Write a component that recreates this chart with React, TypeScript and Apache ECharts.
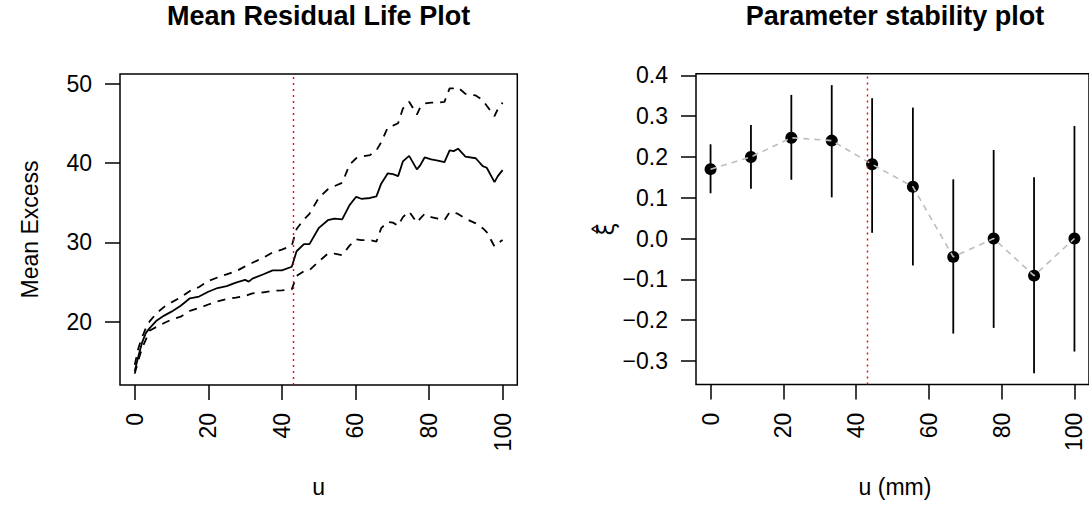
import React, { useEffect, useRef } from "react";
import * as echarts from "echarts";

// ---- Mean residual life data (left panel) ----
const mrlU = [0, 1, 2, 3, 4, 6, 8, 10, 12.5, 15, 17.5, 20, 22.5, 25, 27.5, 30, 31, 32, 35, 37.5, 40, 42.7, 44, 46, 47.5, 50, 52.5, 54.3, 56.4, 58.4, 60.2, 61.6, 64, 65.7, 67, 68.8, 70.2, 71.6, 72.9, 74.6, 76.7, 77.6, 78.8, 80.6, 82.4, 84.2, 85.6, 86.7, 87.9, 89.9, 92.7, 94.6, 95.7, 97.8, 98.7, 100];
const mrlMean = [13.8, 15.7, 17.4, 18.6, 19.2, 20.2, 20.8, 21.3, 22.05, 22.98, 23.2, 23.8, 24.27, 24.5, 24.95, 25.3, 25.07, 25.45, 26.0, 26.5, 26.5, 26.95, 28.9, 29.8, 29.8, 31.8, 32.8, 33.0, 32.9, 34.7, 35.75, 35.5, 35.6, 35.8, 37.4, 38.7, 38.6, 38.35, 40.2, 40.9, 39.2, 39.7, 40.7, 40.45, 40.3, 40.1, 41.6, 41.5, 41.8, 40.8, 40.6, 39.6, 39.4, 37.6, 38.35, 39.1];
const mrlUpper = [14.6, 16.7, 18.1, 19.2, 20.04, 21.13, 21.9, 22.47, 23.1, 23.9, 24.4, 25.15, 25.6, 26.0, 26.37, 27.0, 27.25, 27.45, 28.1, 28.75, 29.1, 29.6, 31.7, 32.9, 33.6, 35.6, 36.7, 37.1, 37.5, 39.8, 40.6, 40.8, 41.0, 41.6, 42.6, 44.5, 44.7, 45.0, 46.85, 47.7, 46.1, 47.0, 47.5, 47.6, 47.6, 47.7, 49.4, 49.4, 49.5, 48.7, 48.5, 47.9, 47.2, 45.9, 46.8, 47.6];
const mrlLower = [13.5, 15.2, 16.7, 17.74, 18.9, 19.4, 19.87, 20.3, 20.67, 21.4, 21.76, 22.2, 22.6, 22.9, 23.05, 23.27, 23.43, 23.6, 23.73, 23.9, 23.98, 24.1, 25.8, 26.4, 26.5, 27.6, 28.6, 28.6, 28.4, 29.6, 30.4, 30.3, 30.3, 30.1, 31.8, 32.6, 32.5, 32.1, 33.2, 33.9, 32.5, 33.0, 33.6, 33.2, 33.0, 32.8, 33.8, 33.8, 33.6, 33.0, 32.4, 31.8, 31.3, 29.5, 29.9, 30.3];

// ---- Parameter stability data (right panel) ----
const thresholds = [0, 11.1, 22.2, 33.3, 44.4, 55.6, 66.7, 77.8, 88.9, 100];
const xiHat = [0.17, 0.2, 0.247, 0.24, 0.182, 0.127, -0.045, 0.0, -0.091, 0.0];
const xiLow = [0.111, 0.122, 0.144, 0.101, 0.014, -0.066, -0.233, -0.219, -0.33, -0.277];
const xiHigh = [0.231, 0.278, 0.352, 0.376, 0.344, 0.321, 0.145, 0.217, 0.15, 0.276];

const chosenThreshold = [43];

const xTicks = [0, 20, 40, 60, 80, 100];
const leftYTicks = [20, 30, 40, 50];
const rightYTicks = [-0.3, -0.2, -0.1, 0.0, 0.1, 0.2, 0.3, 0.4];

const FONT = "'Liberation Sans', Arial, Helvetica, sans-serif";
const TICK_FS = 23;

function fmtSigned(v: number) {
  const s = Math.abs(v).toFixed(1);
  return v < -1e-9 ? "\u2212" + s : s;
}

export default function App() {
  const ref = useRef<HTMLDivElement>(null);

  useEffect(() => {
    if (!ref.current) return;
    const chart = echarts.init(ref.current, null, { renderer: "svg" });

    const axisCommonX = (gridIndex: number) => ({
      type: "value",
      gridIndex,
      min: -4,
      max: 104,
      axisLine: { show: false, onZero: false },
      splitLine: { show: false },
      axisTick: {
        show: true,
        inside: false,
        length: 15,
        customValues: xTicks,
        lineStyle: { color: "#000", width: 1.5 },
      },
      axisLabel: {
        show: true,
        rotate: 90,
        margin: 28,
        customValues: xTicks,
        color: "#000",
        fontSize: TICK_FS,
        fontFamily: FONT,
      },
    });

    const option: any = {
      animation: false,
      backgroundColor: "#fff",
      grid: [
        { left: 120, top: 74, width: 397.3, height: 311, show: true, borderColor: "#000", borderWidth: 1.5, backgroundColor: "transparent" },
        { left: 696, top: 73.7, width: 398, height: 310.9, show: true, borderColor: "#000", borderWidth: 1.5, backgroundColor: "transparent" },
      ],
      xAxis: [axisCommonX(0), axisCommonX(1)],
      yAxis: [
        {
          type: "value",
          gridIndex: 0,
          min: 12.07,
          max: 51.2,
          axisLine: { show: false, onZero: false },
          splitLine: { show: false },
          axisTick: { show: true, length: 15, customValues: leftYTicks, lineStyle: { color: "#000", width: 1.5 } },
          axisLabel: { show: true, margin: 28, customValues: leftYTicks, color: "#000", fontSize: TICK_FS, fontFamily: FONT },
        },
        {
          type: "value",
          gridIndex: 1,
          min: -0.358,
          max: 0.404,
          axisLine: { show: false, onZero: false },
          splitLine: { show: false },
          axisTick: { show: true, length: 15, customValues: rightYTicks, lineStyle: { color: "#000", width: 1.5 } },
          axisLabel: {
            show: true,
            margin: 28,
            customValues: rightYTicks,
            formatter: (v: number) => fmtSigned(v),
            color: "#000",
            fontSize: TICK_FS,
            fontFamily: FONT,
          },
        },
      ],
      series: [
        {
          name: "Mean excess",
          type: "line",
          xAxisIndex: 0,
          yAxisIndex: 0,
          showSymbol: false,
          symbol: "none",
          data: mrlU.map((u, i) => [u, mrlMean[i]]),
          lineStyle: { color: "#000", width: 1.8 },
          markLine: {
            silent: true,
            symbol: "none",
            label: { show: false },
            lineStyle: { color: "#ff0000", type: [2, 4], width: 1.4 },
            data: chosenThreshold.map((t) => ({ xAxis: t })),
          },
        },
        {
          name: "Upper",
          type: "line",
          xAxisIndex: 0,
          yAxisIndex: 0,
          showSymbol: false,
          symbol: "none",
          data: mrlU.map((u, i) => [u, mrlUpper[i]]),
          lineStyle: { color: "#000", width: 1.8, type: [8, 7] },
        },
        {
          name: "Lower",
          type: "line",
          xAxisIndex: 0,
          yAxisIndex: 0,
          showSymbol: false,
          symbol: "none",
          data: mrlU.map((u, i) => [u, mrlLower[i]]),
          lineStyle: { color: "#000", width: 1.8, type: [8, 7] },
        },
        {
          name: "xi points",
          type: "scatter",
          xAxisIndex: 1,
          yAxisIndex: 1,
          symbol: "circle",
          symbolSize: 12,
          itemStyle: { color: "#000", opacity: 1 },
          data: thresholds.map((t, i) => [t, xiHat[i]]),
          markLine: {
            silent: true,
            symbol: "none",
            label: { show: false },
            lineStyle: { color: "#ff0000", type: [2, 4], width: 1.4 },
            data: chosenThreshold.map((t) => ({ xAxis: t })),
          },
        },
        {
          name: "xi line",
          type: "line",
          xAxisIndex: 1,
          yAxisIndex: 1,
          showSymbol: false,
          symbol: "none",
          data: thresholds.map((t, i) => [t, xiHat[i]]),
          lineStyle: { color: "#bebebe", width: 1.6, type: [6, 5] },
        },
        {
          name: "xi CI",
          type: "custom",
          xAxisIndex: 1,
          yAxisIndex: 1,
          data: thresholds.map((t, i) => [t, xiLow[i], xiHigh[i]]),
          encode: { x: 0, y: [1, 2] },
          renderItem: (params: any, api: any) => {
            const x = api.value(0);
            const p1 = api.coord([x, api.value(1)]);
            const p2 = api.coord([x, api.value(2)]);
            return {
              type: "line",
              shape: { x1: p1[0], y1: p1[1], x2: p2[0], y2: p2[1] },
              style: { stroke: "#000", lineWidth: 1.8 },
            };
          },
        },
      ],
      graphic: [
        { type: "text", x: 318.6, y: 16, style: { text: "Mean Residual Life Plot", fontSize: 27, fontWeight: "bold", fontFamily: FONT, fill: "#000", textAlign: "center", textVerticalAlign: "middle" } },
        { type: "text", x: 895, y: 16, style: { text: "Parameter stability plot", fontSize: 27, fontWeight: "bold", fontFamily: FONT, fill: "#000", textAlign: "center", textVerticalAlign: "middle" } },
        { type: "text", x: 318.6, y: 487, style: { text: "u", fontSize: TICK_FS, fontFamily: FONT, fill: "#000", textAlign: "center", textVerticalAlign: "middle" } },
        { type: "text", x: 895, y: 487, style: { text: "u (mm)", fontSize: TICK_FS, fontFamily: FONT, fill: "#000", textAlign: "center", textVerticalAlign: "middle" } },
        { type: "text", x: 30, y: 229.5, rotation: Math.PI / 2, style: { text: "Mean Excess", fontSize: TICK_FS, fontFamily: FONT, fill: "#000", textAlign: "center", textVerticalAlign: "middle" } },
        { type: "text", x: 606, y: 229, rotation: Math.PI / 2, style: { text: "\u03BE\u0302", fontSize: TICK_FS, fontFamily: "'DejaVu Sans', " + FONT, fill: "#000", textAlign: "center", textVerticalAlign: "middle" } },
      ],
    };

    chart.setOption(option);
    return () => chart.dispose();
  }, []);

  return (
    <div
      ref={ref}
      style={{ position: "fixed", left: 0, top: 0, width: 1089, height: 507, background: "#fff" }}
    />
  );
}
